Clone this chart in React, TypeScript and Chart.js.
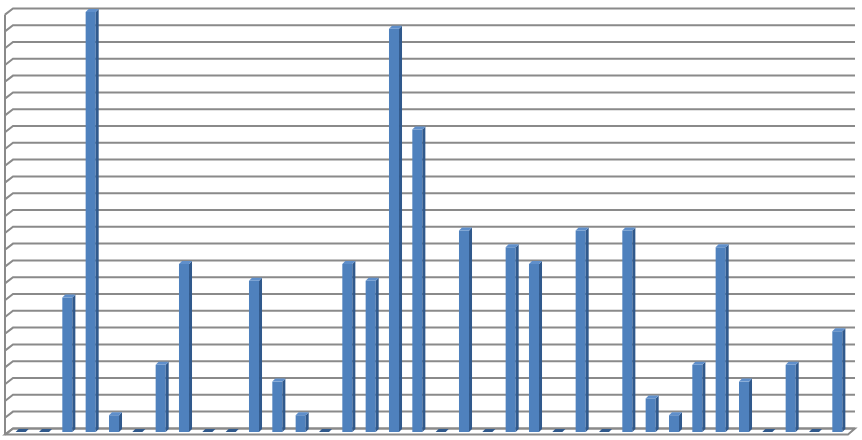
import React, { useEffect, useRef } from 'react';
import { Chart, registerables } from 'chart.js';

Chart.register(...registerables);

// 36 unlabeled categories
const categories: string[] = Array.from({ length: 36 }, (_, i) => String(i + 1));
const values: number[] = [
  0, 0, 8, 25, 1, 0, 4, 10, 0, 0, 9, 3, 1, 0, 10, 9, 24, 18,
  0, 12, 0, 11, 10, 0, 12, 0, 12, 2, 1, 4, 11, 3, 0, 4, 0, 6,
];
const yMin = 0;
const yMax = 25;
const yStep = 1;

const GRID = '#8a8a8a';
const FRONT = '#4f81bd';
const SIDE = '#30598c';
const TOP = '#5f8fcb';

// the 3d look: walls, floor and bar sides
const wallPlugin = {
  id: 'wall3d',
  beforeDatasetsDraw(chart: any) {
    const { ctx, scales } = chart;
    const ys = scales.y;
    const area = chart.chartArea;
    ctx.save();
    ctx.strokeStyle = GRID;
    ctx.lineWidth = 2;
    const backL = 13, backR = 855, frontL = 5, frontR = 848;
    // floor
    const y0 = ys.getPixelForValue(0);
    ctx.beginPath();
    ctx.moveTo(frontL, y0 + 2.6);
    ctx.lineTo(frontR, y0 + 2.6);
    ctx.lineTo(backR, y0 - 3.6);
    ctx.lineTo(backL, y0 - 3.6);
    ctx.closePath();
    ctx.stroke();
    // back wall lines + left wall stubs
    for (let v = yMin; v <= yMax; v += yStep) {
      const y = ys.getPixelForValue(v);
      ctx.beginPath();
      ctx.moveTo(frontL, y + 2.6);
      ctx.lineTo(backL, y - 3.6);
      ctx.lineTo(backR, y - 3.6);
      ctx.stroke();
    }
    // left wall vertical
    ctx.beginPath();
    ctx.moveTo(frontL, ys.getPixelForValue(yMax) + 2.6);
    ctx.lineTo(frontL, y0 + 2.6);
    ctx.stroke();
    ctx.restore();
    void area;
  },
  afterDatasetsDraw(chart: any) {
    const { ctx } = chart;
    const meta = chart.getDatasetMeta(0);
    const dx = 3, dy = 3;
    ctx.save();
    meta.data.forEach((bar: any) => {
      const { x, y, width, base } = bar.getProps(['x', 'y', 'width', 'base'], true);
      const l = x - width / 2, r = x + width / 2;
      ctx.fillStyle = SIDE;
      ctx.beginPath();
      ctx.moveTo(r, y);
      ctx.lineTo(r + dx, y - dy);
      ctx.lineTo(r + dx, base - dy);
      ctx.lineTo(r, base);
      ctx.closePath();
      ctx.fill();
      ctx.fillStyle = base - y < 1 ? SIDE : TOP;
      ctx.beginPath();
      ctx.moveTo(l, y);
      ctx.lineTo(r, y);
      ctx.lineTo(r + dx, y - dy);
      ctx.lineTo(l + dx, y - dy);
      ctx.closePath();
      ctx.fill();
    });
    ctx.restore();
  },
};

const App: React.FC = () => {
  const chartRef = useRef<HTMLCanvasElement>(null);
  const chartInstanceRef = useRef<Chart | null>(null);

  useEffect(() => {
    if (!chartRef.current) return;
    if (chartInstanceRef.current) chartInstanceRef.current.destroy();
    const ctx = chartRef.current.getContext('2d');
    if (!ctx) return;

    chartInstanceRef.current = new Chart(ctx, {
      type: 'bar',
      data: {
        labels: categories,
        datasets: [{
          data: values,
          backgroundColor: FRONT,
          borderWidth: 0,
          barPercentage: 0.86,
          categoryPercentage: 0.5,
        }],
      },
      options: {
        animation: false,
        responsive: false,
        devicePixelRatio: 1,
        layout: { padding: { left: 9, right: 13, top: 12, bottom: 8 } },
        plugins: { legend: { display: false }, tooltip: { enabled: false } },
        scales: {
          x: { display: false },
          y: { display: false, min: yMin, max: yMax, ticks: { stepSize: yStep } },
        },
      },
      plugins: [wallPlugin],
    });

    return () => {
      if (chartInstanceRef.current) {
        chartInstanceRef.current.destroy();
        chartInstanceRef.current = null;
      }
    };
  }, []);

  return (
    <div style={{ position: 'fixed', left: 0, top: 0, width: 862, height: 440, background: '#fff' }}>
      <canvas ref={chartRef} width={862} height={440} />
    </div>
  );
};

export default App;
